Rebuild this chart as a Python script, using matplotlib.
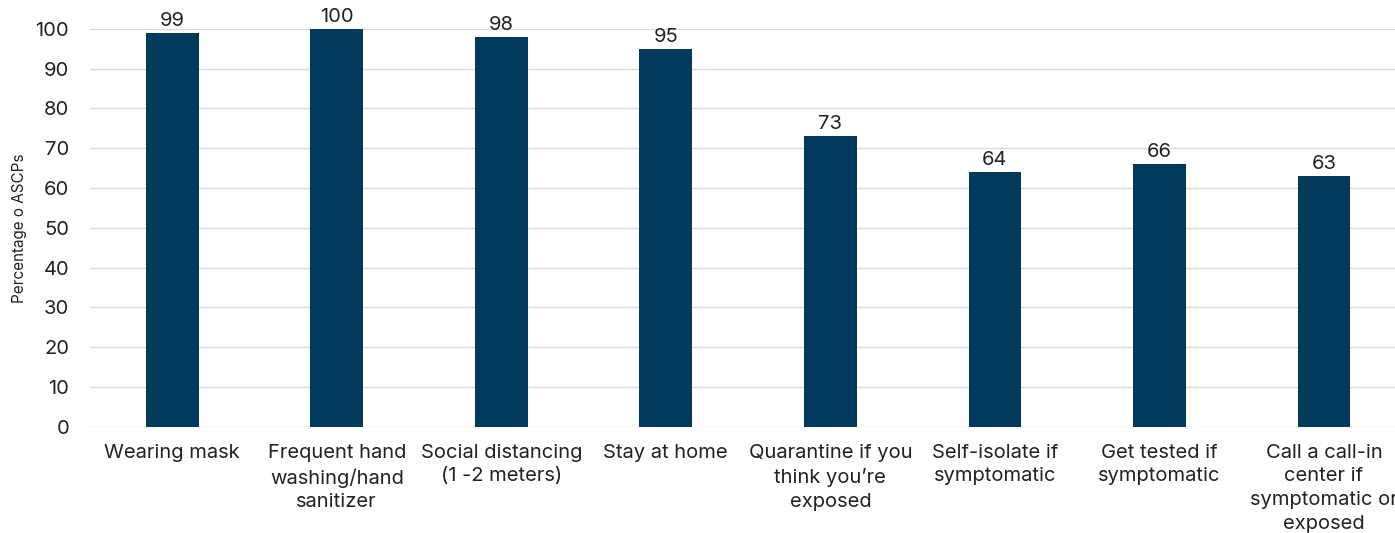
import matplotlib.pyplot as plt

plt.rcParams['font.family'] = ['Inter', 'DejaVu Sans']

# Data
categories = [
    "Wearing mask",
    "Frequent hand\nwashing/hand\nsanitizer",
    "Social distancing\n(1 -2 meters)",
    "Stay at home",
    "Quarantine if you\nthink you\u2019re\nexposed",
    "Self-isolate if\nsymptomatic",
    "Get tested if\nsymptomatic",
    "Call a call-in\ncenter if\nsymptomatic or\nexposed",
]
values = [99, 100, 98, 95, 73, 64, 66, 63]
y_ticks = list(range(0, 101, 10))

fig = plt.figure(figsize=(13.95, 5.33), dpi=100)
ax = fig.add_axes([0.0645, 0.199, 0.9435, 0.747])

x = range(len(categories))
bars = ax.bar(x, values, width=0.32, color="#023a5c", zorder=3)

for xi, v in zip(x, values):
    ax.text(xi, v + 0.8, str(v), ha="center", va="bottom", fontsize=14.5, color="#222222", clip_on=False)

ax.set_xlim(-0.5, len(categories) - 0.5)
ax.set_ylim(0, 100)
ax.set_yticks(y_ticks)
ax.yaxis.grid(True, color="#d9d9d9", linewidth=1, zorder=0)
for s in ax.spines.values():
    s.set_visible(False)
ax.tick_params(axis="both", length=0, labelsize=14.5, colors="#222222")
ax.tick_params(axis="x", pad=12)
ax.tick_params(axis="y", pad=15)
ax.set_xticks(list(x))
ax.set_xticklabels(categories, linespacing=1.42)
ax.set_ylabel("Percentage o ASCPs", fontsize=11, color="#222222", labelpad=6)

fig.savefig("out.png", dpi=100)
